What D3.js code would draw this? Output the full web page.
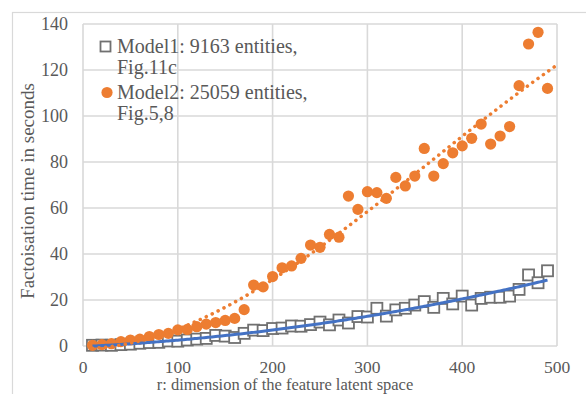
<!DOCTYPE html>
<html><head><meta charset="utf-8">
<script src="https://cdn.jsdelivr.net/npm/d3@7"></script>
<style>
html,body{margin:0;padding:0;background:#fff;}
svg{display:block;font-family:"Liberation Serif","Times New Roman",serif;}
</style></head>
<body>
<svg id="c" width="586" height="394"></svg>
<script>
const rValues = d3.range(10, 500, 10);
const model1Times = [0.3,0.4,0.3,0.6,0.8,1.2,1.5,1.6,2.2,2.1,2.6,3.0,3.3,4.6,4.3,3.7,5.5,6.9,6.7,7.6,7.8,8.7,8.6,9.3,10.4,9.2,11.3,10.0,12.8,12.6,16.4,13.0,15.7,16.4,17.8,19.3,16.8,20.7,18.3,21.7,17.8,20.7,21.2,21.2,21.7,24.6,30.9,27.5,32.7];
const model2Times = [0.3,0.6,1.0,1.9,2.6,3.0,4.1,5.0,5.5,7.0,7.2,8.4,9.5,10.2,11.1,12.0,15.8,26.5,25.7,30.2,34.0,34.8,38.1,43.9,42.9,48.5,47.3,65.2,59.4,67.1,66.7,64.2,73.3,69.6,73.9,85.9,73.9,79.3,84.0,87.0,90.3,96.5,87.8,91.3,95.4,113.2,131.3,136.4,112.0];
const xTicks = [0,100,200,300,400,500];
const yTicks = [0,20,40,60,80,100,120,140];
const legendLines1 = ["Model1: 9163 entities,","Fig.11c"];
const legendLines2 = ["Model2: 25059 entities,","Fig.5,8"];
const xTitle = "r: dimension of the feature latent space";
const yTitle = "Factoisation time in seconds";

function polyfit(xs, ys, deg){
  const n = deg+1;
  const A = Array.from({length:n},()=>new Array(n+1).fill(0));
  for(let i=0;i<xs.length;i++){
    for(let r=0;r<n;r++){
      for(let c=0;c<n;c++) A[r][c]+=Math.pow(xs[i],r+c);
      A[r][n]+=ys[i]*Math.pow(xs[i],r);
    }
  }
  for(let i=0;i<n;i++){
    let m=i; for(let k=i+1;k<n;k++) if(Math.abs(A[k][i])>Math.abs(A[m][i])) m=k;
    [A[i],A[m]]=[A[m],A[i]];
    for(let k=i+1;k<n;k++){const f=A[k][i]/A[i][i]; for(let j=i;j<=n;j++) A[k][j]-=f*A[i][j];}
  }
  const co=new Array(n).fill(0);
  for(let i=n-1;i>=0;i--){let s=A[i][n]; for(let j=i+1;j<n;j++) s-=A[i][j]*co[j]; co[i]=s/A[i][i];}
  return x=>co.reduce((s,c,i)=>s+c*Math.pow(x,i),0);
}

const svg = d3.select("#c");
const x = d3.scaleLinear().domain([0,500]).range([83,557]);
const y = d3.scaleLinear().domain([0,140]).range([346,24]);
const grid="#d9d9d9", txt="#595959";

svg.append("rect").attr("x",12.5).attr("y",12.5).attr("width",600).attr("height",400)
  .attr("fill","#fff").attr("stroke",grid).attr("stroke-width",1.2);

svg.append("g").selectAll("line").data(yTicks).join("line")
  .attr("x1",x(0)).attr("x2",x(500)).attr("y1",d=>y(d)).attr("y2",d=>y(d))
  .attr("stroke",grid).attr("stroke-width",1.6);
svg.append("g").selectAll("line").data(xTicks).join("line")
  .attr("y1",y(0)).attr("y2",y(140)).attr("x1",d=>x(d)).attr("x2",d=>x(d))
  .attr("stroke",grid).attr("stroke-width",1.6);

svg.append("g").selectAll("text").data(yTicks).join("text")
  .attr("x",68).attr("y",d=>y(d)).attr("dy","0.35em").attr("text-anchor","end")
  .attr("font-size",18).attr("fill",txt).text(d=>d);
svg.append("g").selectAll("text").data(xTicks).join("text")
  .attr("x",d=>x(d)).attr("y",372.5).attr("text-anchor","middle")
  .attr("font-size",17.5).attr("fill",txt).text(d=>d);

svg.append("text").attr("x",285).attr("y",390).attr("text-anchor","middle")
  .attr("font-size",16.5).attr("fill",txt).text(xTitle);
svg.append("text").attr("transform","translate(34,191) rotate(-90)").attr("text-anchor","middle")
  .attr("font-size",19).attr("fill",txt).text(yTitle);

const s1 = rValues.map((r,i)=>({r, v:model1Times[i]}));
const s2 = rValues.map((r,i)=>({r, v:model2Times[i]}));

svg.append("g").selectAll("rect").data(s1).join("rect")
  .attr("x",d=>x(d.r)-5.5).attr("y",d=>y(d.v)-5.5).attr("width",11).attr("height",11)
  .attr("fill","#fff").attr("stroke","#707070").attr("stroke-width",1.8);
svg.append("g").selectAll("circle").data(s2).join("circle")
  .attr("cx",d=>x(d.r)).attr("cy",d=>y(d.v)).attr("r",5.6).attr("fill","#ED7D31");

const f1 = polyfit(rValues, model1Times, 2);
const f2 = polyfit(rValues, model2Times, 3);
const line = d3.line().x(d=>x(d[0])).y(d=>y(d[1]));
svg.append("path").attr("d",line(d3.range(10,490.1,2).map(r=>[r,f1(r)])))
  .attr("fill","none").attr("stroke","#4472C4").attr("stroke-width",3);
svg.append("path").attr("d",line(d3.range(10,500.1,2).map(r=>[r,f2(r)])))
  .attr("fill","none").attr("stroke","#ED7D31").attr("stroke-width",3.5)
  .attr("stroke-dasharray","0.1 6.5").attr("stroke-linecap","round");

// legend
const lg = svg.append("g");
lg.append("rect").attr("x",100.5).attr("y",41.5).attr("width",10).attr("height",10)
  .attr("fill","#fff").attr("stroke","#707070").attr("stroke-width",1.8);
lg.append("circle").attr("cx",107).attr("cy",92.5).attr("r",5.6).attr("fill","#ED7D31");
lg.selectAll("text.l1").data(legendLines1).join("text").attr("class","l1")
  .attr("x",117).attr("y",(d,i)=>53+i*21).attr("font-size",20).attr("fill",txt).text(d=>d);
lg.selectAll("text.l2").data(legendLines2).join("text").attr("class","l2")
  .attr("x",117).attr("y",(d,i)=>99+i*21).attr("font-size",20).attr("fill",txt).text(d=>d);
</script>
</body></html>
